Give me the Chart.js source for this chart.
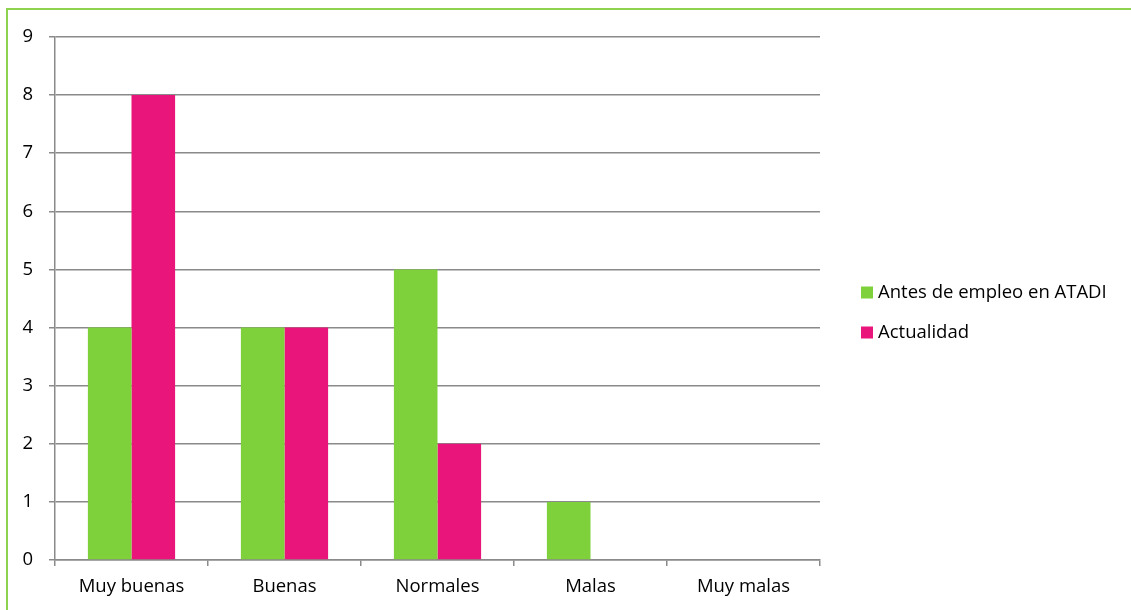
<!DOCTYPE html>
<html>
<head>
<meta charset="utf-8">
<script src="https://cdn.jsdelivr.net/npm/chart.js@4.4.1/dist/chart.umd.min.js"></script>
<style>
  html, body { margin: 0; padding: 0; background: #fff; }
  #wrap { position: relative; width: 1131px; height: 610px; overflow: hidden; }
  #frame { position: absolute; left: 6px; top: 8px; right: -10px; bottom: -10px;
           border-top: 2px solid #8ED24F; border-left: 2px solid #8ED24F; pointer-events: none; }
  canvas { position: absolute; left: 0; top: 0; }
</style>
</head>
<body>
<div id="wrap">
  <canvas id="c" width="1131" height="610"></canvas>
  <div id="frame"></div>
</div>
<script>
// Survey answers: rating of working conditions
const categories = ['Muy buenas', 'Buenas', 'Normales', 'Malas', 'Muy malas'];
const antesValues = [4, 4, 5, 1, 0];
const actualValues = [8, 4, 2, 0, 0];
const seriesNames = ['Antes de empleo en ATADI', 'Actualidad'];
const yTicks = [0, 1, 2, 3, 4, 5, 6, 7, 8, 9];

const FONT = '"Open Sans", sans-serif';
const FONT_SIZE = 18.5;
const GRID = '#8A8A8A';

// Legend drawn at the right of the plot
const sideLegend = {
  id: 'sideLegend',
  afterDraw(chart) {
    const ctx = chart.ctx;
    ctx.save();
    ctx.font = FONT_SIZE + 'px ' + FONT;
    ctx.textBaseline = 'middle';
    ctx.textAlign = 'left';
    chart.data.datasets.forEach((ds, i) => {
      const y = 292.5 + i * 40;
      ctx.fillStyle = ds.backgroundColor;
      ctx.fillRect(861, y - 6, 12, 12);
      ctx.fillStyle = '#000';
      ctx.fillText(ds.label, 878, y);
    });
    ctx.restore();
  }
};

new Chart(document.getElementById('c'), {
  type: 'bar',
  data: {
    labels: categories,
    datasets: [
      { label: seriesNames[0], data: antesValues, backgroundColor: '#7FD13B' },
      { label: seriesNames[1], data: actualValues, backgroundColor: '#EA157A' }
    ]
  },
  options: {
    responsive: false,
    animation: false,
    devicePixelRatio: 1,
    layout: { padding: { left: 0, top: 37, right: 311, bottom: 0 } },
    categoryPercentage: 0.57,
    barPercentage: 1.0,
    plugins: { legend: { display: false }, tooltip: { enabled: false } },
    scales: {
      x: {
        afterFit(scale) { scale.height = 50; },
        grid: { display: true, offset: true, drawOnChartArea: false, color: GRID, lineWidth: 1.5, tickLength: 6 },
        border: { display: true, color: GRID, width: 1.5 },
        ticks: { color: '#000', font: { family: FONT, size: FONT_SIZE }, padding: 10, maxRotation: 0 }
      },
      y: {
        min: 0, max: 9,
        afterFit(scale) { scale.width = 55; },
        afterBuildTicks(scale) { scale.ticks = yTicks.map(v => ({ value: v })); },
        grid: { color: GRID, lineWidth: 1.5, tickLength: 6 },
        border: { display: true, color: GRID, width: 1.5 },
        ticks: { color: '#000', font: { family: FONT, size: FONT_SIZE }, padding: 16 }
      }
    }
  },
  plugins: [sideLegend]
});
</script>
</body>
</html>
